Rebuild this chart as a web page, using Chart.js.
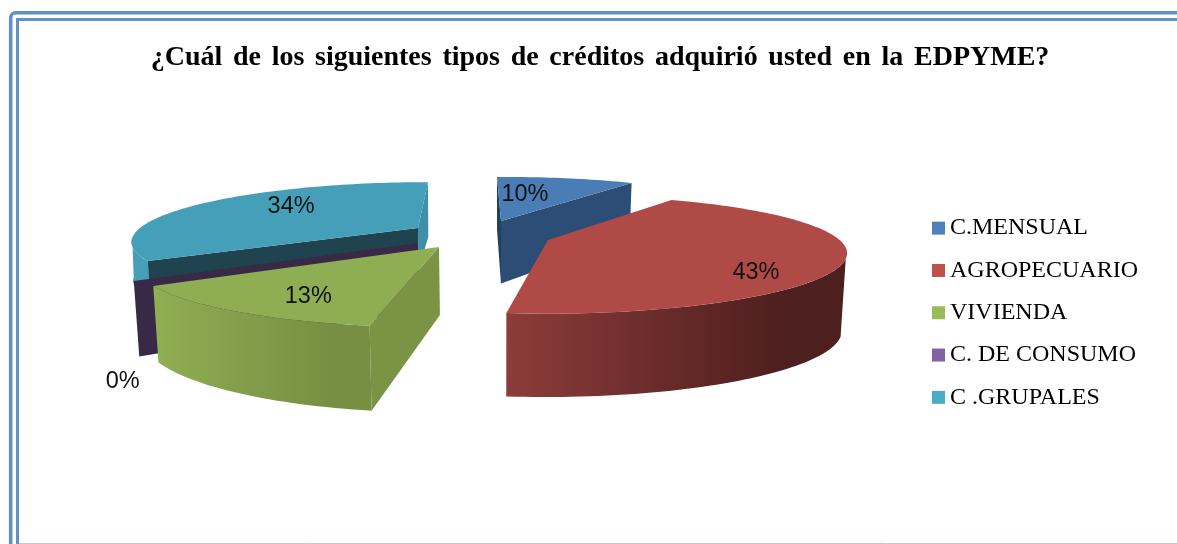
<!DOCTYPE html>
<html><head><meta charset="utf-8">
<style>html,body{margin:0;padding:0;background:#fff}#w{width:1177px;height:544px;position:relative}</style>
<script src="https://cdn.jsdelivr.net/npm/chart.js@4"></script>
</head><body><div id="w"><canvas id="c" width="1177" height="544"></canvas></div>
<script>
const titleText = "¿Cuál de los siguientes tipos de créditos adquirió usted en la EDPYME?";
const categories = ["C.MENSUAL", "AGROPECUARIO", "VIVIENDA", "C. DE CONSUMO", "C .GRUPALES"];
const shares = [10, 43, 13, 0, 34];
const legendColors = ["#4F81BD", "#C0504D", "#9BBB59", "#8064A2", "#4BACC6"];
const topColors = ["#4A7DB6", "#AF4A47", "#8FAD52", "#3A2B4E", "#459FB9"];
const startFaceColors = ["#24405F", null, "#7A9345", "#382A47", "#1F4450"];
const endFaceColors = ["#2C4D75", null, null, null, "#3E8FA9"];
const wallStops = [null, ["#8C3C3A", "#4D1F1E"], ["#90AE53", "#768F43"], null, ["#459FB9", "#459FB9"]];
const wallFrom = [null, Math.PI/7.5, null, null, null];
const wallTo = [null, null, null, null, Math.PI*0.945];
const drawOrder = [4, 3, 2, 0, 1];
// Per-slice 3D view: exploded apex (ox, oy), axes (a,b,c,d), perspective p, wall depth k0 + k1*y, wall lean kx
const views = [
  {ox:501,oy:221,a:274,b:-2,c:5,d:55,p:.25,k0:15,k1:.215,kx:.015},
  {ox:548,oy:240,a:283,b:-6,c:22,d:55,p:.25,k0:52,k1:.1,kx:.015},
  {ox:439,oy:247,a:295,b:-2,c:3,d:60,p:.25,k0:15,k1:.215,kx:.015},
  {ox:418,oy:243,a:308,b:-9.5,c:-11,d:51.5,p:.12,k0:15,k1:.215,kx:.015},
  {ox:418,oy:228,a:278,b:0,c:-12,d:55,p:.2,k0:102,k1:-.26,kx:.004}
];
const labelPlace = [
  {r:.6,dx:-18,dy:1},{r:.7,dx:6,dy:20},{r:.7,dx:3,dy:8},{r:1,dx:-11,dy:100},{r:.6,dx:8,dy:-6}
];
const legendShift = 20.5;

function project(v, t, r){
  const cs=Math.cos(t)*r, sn=Math.sin(t)*r, w=1-v.p*sn;
  return [v.ox+(v.a*cs+v.c*sn)/w, v.oy+(v.b*cs+v.d*sn)/w];
}
function drop(v, pt){ return [pt[0]+(500-pt[0])*v.kx, pt[1]+v.k0+v.k1*pt[1]]; }
function poly(ctx, pts, fill){
  ctx.beginPath(); pts.forEach((p,i)=>i?ctx.lineTo(p[0],p[1]):ctx.moveTo(p[0],p[1]));
  ctx.closePath(); ctx.fillStyle=fill; ctx.fill();
}
function rim(v,a,b){ const o=[],n=Math.max(2,Math.ceil(Math.abs(b-a)*40));
  for(let i=0;i<=n;i++) o.push(project(v,a+(b-a)*i/n,1)); return o; }

const pie3d = {
  id:'pie3d',
  afterLayout(chart){
    const t=chart.titleBlock, ctx=chart.ctx, l=chart.legend;
    if(t && !t.spaced){ const d=t.draw; t.spaced=true;
      t.draw=function(){ ctx.wordSpacing='3.7px'; d.call(this); ctx.wordSpacing='0px'; }; }
    if(l && !l.shifted){ l.shifted=true; l.top+=legendShift; l.bottom+=legendShift;
      l.legendHitBoxes.forEach(h=>{h.top+=legendShift;}); }
  },
  beforeDraw(chart){
    const x=chart.ctx; x.save(); x.fillStyle='#fff'; x.fillRect(0,0,1177,544);
    x.strokeStyle='#B9C6DC'; x.lineWidth=1; x.beginPath(); x.moveTo(19,543.5); x.lineTo(1177,543.5); x.stroke();
    x.strokeStyle='#6590C6'; x.lineWidth=3.6;
    x.beginPath(); x.moveTo(10.7,544); x.lineTo(10.7,18); x.arcTo(10.7,12.8,16,12.8,5); x.lineTo(1177,12.8); x.stroke();
    x.lineWidth=3; x.beginPath(); x.moveTo(17.5,544); x.lineTo(17.5,19.5); x.lineTo(1177,19.5); x.stroke();
    x.restore();
  },
  beforeDatasetDraw(chart){
    const ctx=chart.ctx, arcs=chart.getDatasetMeta(0).data;
    ctx.save();
    drawOrder.forEach(i=>{
      const e=arcs[i], v=views[i], s=e.startAngle, t=e.endAngle, apex=[v.ox,v.oy];
      if(wallStops[i]){
        const top=rim(v,wallFrom[i]===null?s:wallFrom[i],wallTo[i]===null?t:wallTo[i]), bot=top.map(p=>drop(v,p)).reverse();
        const xs=top.concat(bot).map(p=>p[0]), g=ctx.createLinearGradient(Math.min(...xs),0,Math.max(...xs),0);
        g.addColorStop(0,wallStops[i][0]); g.addColorStop(.82,wallStops[i][1]); g.addColorStop(1,wallStops[i][1]);
        poly(ctx,top.concat(bot),g);
      }
      const face=(ang,col)=>{ if(!col) return; const p=project(v,ang,1);
        poly(ctx,[apex,p,drop(v,p),drop(v,apex)],col); };
      face(s,startFaceColors[i]); face(t,endFaceColors[i]);
      if(t>s) poly(ctx,[apex].concat(rim(v,s,t)),topColors[i]);
    });
    ctx.fillStyle='#111'; ctx.font='23.5px "Liberation Sans"'; ctx.textAlign='center'; ctx.textBaseline='middle';
    arcs.forEach((e,i)=>{
      const l=labelPlace[i], p=project(views[i],(e.startAngle+e.endAngle)/2,l.r);
      ctx.fillText(shares[i]+'%',p[0]+l.dx,p[1]+l.dy);
    });
    ctx.restore();
    return false;
  },
  afterDraw(chart){
    const ctx=chart.ctx;
    chart.legend.legendHitBoxes.forEach((h,i)=>{
      ctx.fillStyle=legendColors[i];
      ctx.fillRect(h.left, h.top+h.height/2-6.5, 13, 13);
    });
  }
};

new Chart(document.getElementById('c'),{
  type:'pie',
  data:{labels:categories,datasets:[{data:shares,backgroundColor:legendColors,borderWidth:0}]},
  plugins:[pie3d],
  options:{
    responsive:false,animation:false,
    layout:{padding:{top:40.5,right:29,bottom:0,left:52}},
    plugins:{
      tooltip:{enabled:false},
      title:{display:true,text:titleText,color:'#000',padding:{top:0,bottom:78.5},
        font:{family:'"Liberation Serif"',size:28,weight:'bold'}},
      legend:{position:'right',
        labels:{color:'#111',boxWidth:6,boxHeight:13,padding:18.3,
          font:{family:'"Liberation Serif"',size:24},
          generateLabels(){return categories.map((c,i)=>({text:c,fillStyle:'rgba(0,0,0,0)',strokeStyle:'rgba(0,0,0,0)',lineWidth:0,index:i}));}}}
    }
  }
});
</script></body></html>
